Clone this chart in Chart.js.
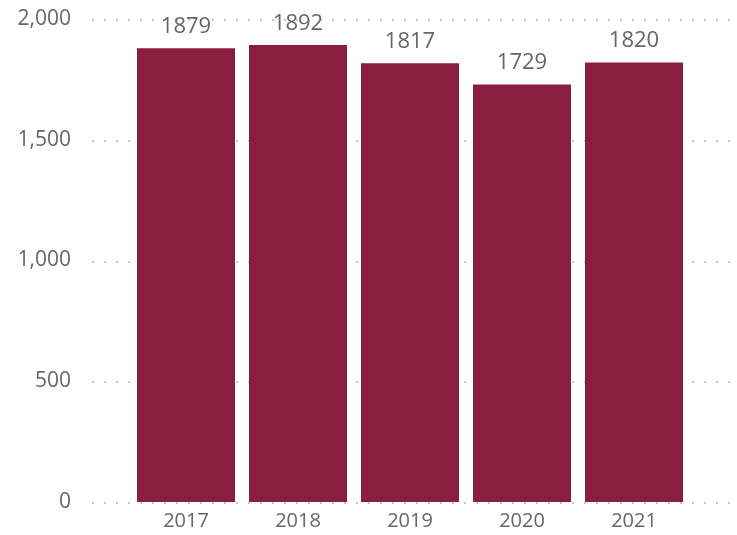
<!DOCTYPE html>
<html>
<head>
<meta charset="utf-8">
<script src="https://cdn.jsdelivr.net/npm/chart.js@4/dist/chart.umd.min.js"></script>
<style>
html,body{margin:0;padding:0;background:#fff;}
#wrap{width:737px;height:535px;position:relative;}
</style>
</head>
<body>
<div id="wrap"><canvas id="c" width="737" height="535"></canvas></div>
<script>
const categories = ["2017", "2018", "2019", "2020", "2021"];
const values = [1879, 1892, 1817, 1729, 1820];
const yTicks = [0, 500, 1000, 1500, 2000];

const FONT = "'Open Sans', 'Noto Sans', sans-serif";
const TEXT = "#666666";
const BAR = "#8A1E41";

const gridPlugin = {
  id: 'dottedGrid',
  beforeDatasetsDraw(chart) {
    const ctx = chart.ctx;
    const y = chart.scales.y;
    ctx.save();
    ctx.strokeStyle = "#C8C6C4";
    ctx.lineWidth = 2;
    ctx.setLineDash([2, 10]);
    yTicks.forEach(v => {
      const py = Math.round(y.getPixelForValue(v)) + 1;
      ctx.beginPath();
      ctx.moveTo(92, py);
      ctx.lineTo(737, py);
      ctx.stroke();
    });
    ctx.restore();
  }
};

const labelPlugin = {
  id: 'barLabels',
  afterDatasetsDraw(chart) {
    const ctx = chart.ctx;
    const meta = chart.getDatasetMeta(0);
    ctx.save();
    ctx.font = "22px " + FONT;
    ctx.fillStyle = TEXT;
    ctx.textAlign = 'center';
    ctx.textBaseline = 'alphabetic';
    meta.data.forEach((bar, i) => {
      ctx.fillText(String(values[i]), bar.x, bar.y - 15);
    });
    ctx.restore();
  }
};

new Chart(document.getElementById('c'), {
  type: 'bar',
  data: {
    labels: categories,
    datasets: [{
      data: values,
      backgroundColor: BAR,
      borderWidth: 0,
      categoryPercentage: 1,
      barPercentage: 0.875
    }]
  },
  options: {
    responsive: false,
    animation: false,
    devicePixelRatio: 1,
    layout: { padding: { top: 19, right: 47, bottom: 0, left: 0 } },
    plugins: { legend: { display: false }, tooltip: { enabled: false } },
    scales: {
      x: {
        grid: { display: false, drawTicks: false },
        border: { display: false },
        ticks: { color: TEXT, font: { family: FONT, size: 20 }, padding: 7, maxRotation: 0 },
        afterFit(s) { s.height = 33; s.paddingLeft = 0; s.paddingRight = 0; }
      },
      y: {
        min: 0, max: 2000,
        grid: { display: false, drawTicks: false },
        border: { display: false },
        ticks: {
          stepSize: 500,
          color: TEXT,
          font: { family: FONT, size: 21 },
          padding: 59,
          callback: v => Number(v).toLocaleString('en-US')
        },
        afterFit(s) { s.width = 130; s.paddingTop = 0; s.paddingBottom = 0; }
      }
    }
  },
  plugins: [gridPlugin, labelPlugin]
});
</script>
</body>
</html>
